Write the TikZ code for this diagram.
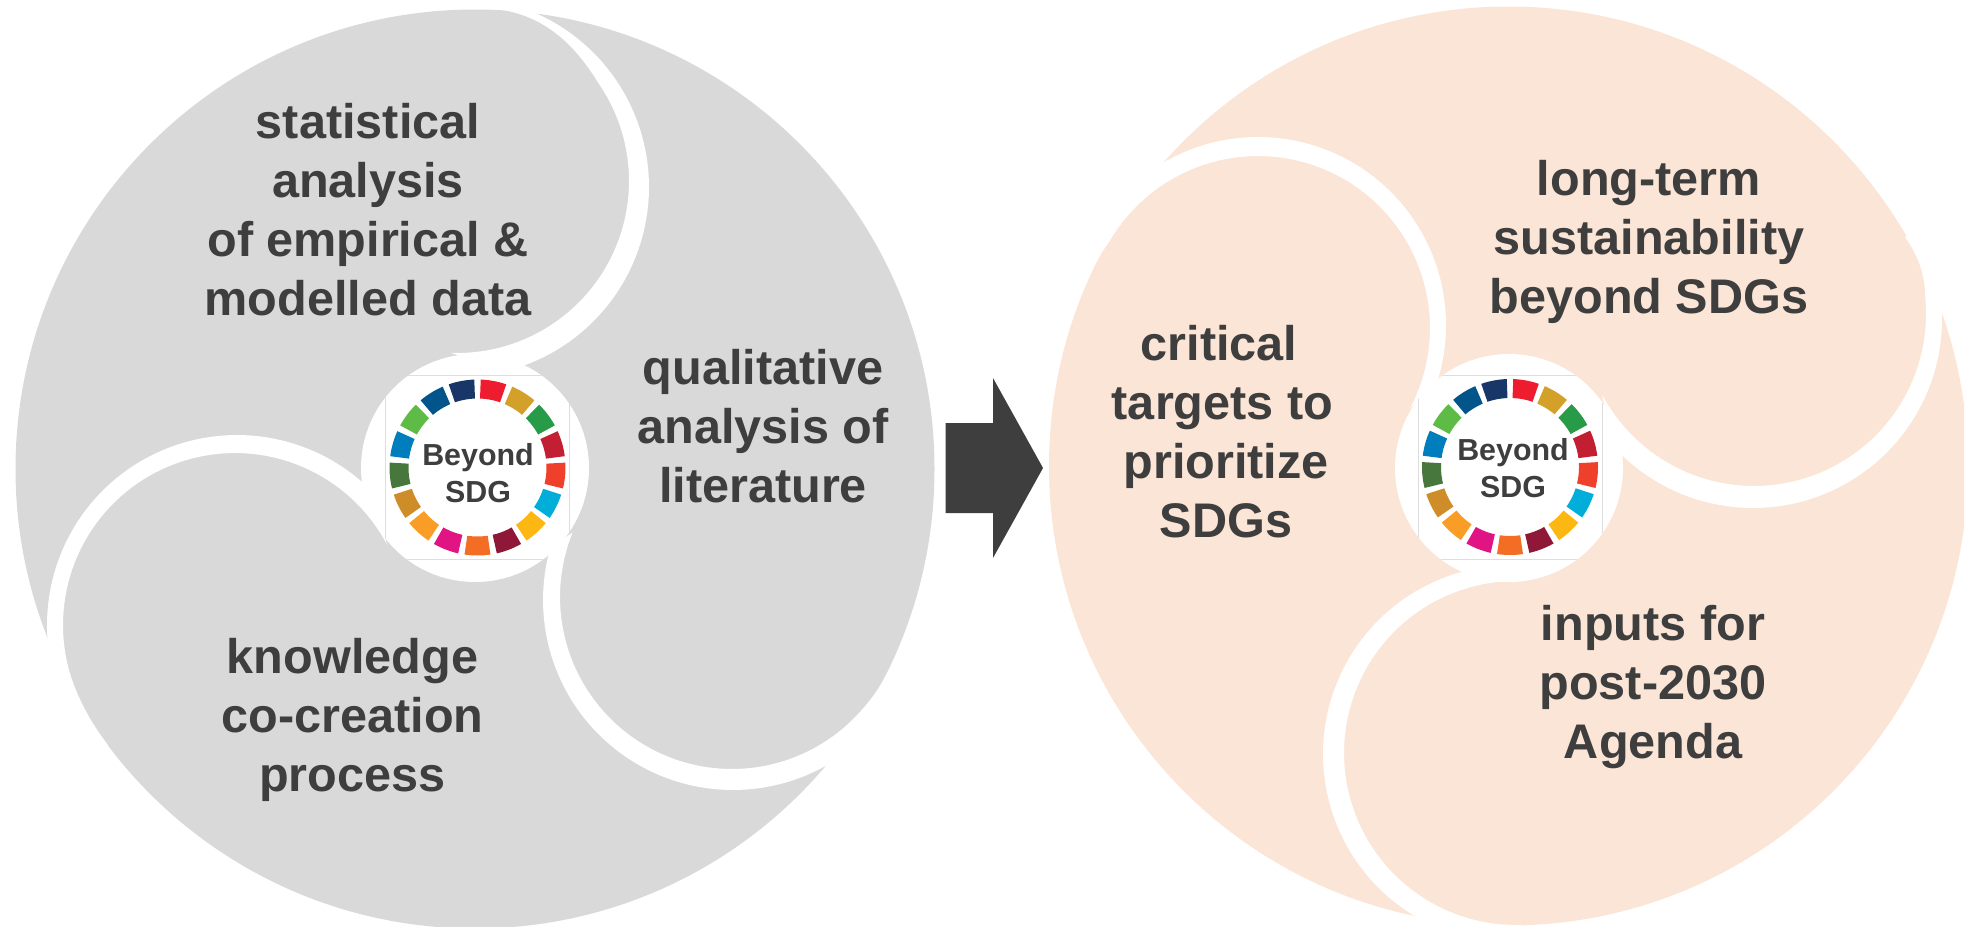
\documentclass[tikz,border=0pt]{standalone}
\usepackage{fontspec}
\setmainfont{Liberation Sans}
\definecolor{diskgray}{HTML}{D9D9D9}
\definecolor{diskpeach}{HTML}{FBE5D6}
\definecolor{inkgray}{HTML}{3E3E3E}
\definecolor{logoedge}{HTML}{DEDEDE}
\definecolor{sA}{HTML}{ED1C2E}\definecolor{sB}{HTML}{D3A029}\definecolor{sC}{HTML}{279B48}
\definecolor{sD}{HTML}{C31F33}\definecolor{sE}{HTML}{EF402B}\definecolor{sF}{HTML}{00AED9}
\definecolor{sG}{HTML}{FDB713}\definecolor{sH}{HTML}{8F1838}\definecolor{sI}{HTML}{F36D25}
\definecolor{sJ}{HTML}{E11484}\definecolor{sK}{HTML}{F99D26}\definecolor{sL}{HTML}{CF8D2A}
\definecolor{sM}{HTML}{48773E}\definecolor{sN}{HTML}{007DBC}\definecolor{sO}{HTML}{5DBB46}
\definecolor{sP}{HTML}{02558B}\definecolor{sQ}{HTML}{183668}
\tikzset{
  lobetext/.style={text=inkgray,font=\fontsize{48.6}{59}\selectfont\bfseries,align=center,inner sep=0pt,anchor=base},
  logotext/.style={text=inkgray,font=\fontsize{30.4}{37}\selectfont\bfseries,align=center,inner sep=0pt,anchor=base},
  gap/.style={fill=white,draw=none},
  arcp/.style={samples=70}
}
% #1,#2 white circle centre; #3,#4 ring centre; #5,#6 last text baseline; #7 node name
\newcommand{\sdglogo}[7]{%
  \fill[white] (#1,#2) circle[radius=114];
  \begin{scope}
    \clip (#1,#2) circle[radius=114];
    \draw[logoedge,line width=0.8pt] (#3-92,#4-92) rectangle (#3+92,#4+92);
  \end{scope}
  \foreach \k/\c in {0/sA,1/sB,2/sC,3/sD,4/sE,5/sF,6/sG,7/sH,8/sI,9/sJ,10/sK,11/sL,12/sM,13/sN,14/sO,15/sP,16/sQ}{
    \pgfmathsetmacro{\aS}{90-\k*360/17-2.1}
    \pgfmathsetmacro{\aE}{90-(\k+1)*360/17+2.1}
    \fill[\c] ({#3+88*cos(\aS)},{#4-88*sin(\aS)})
      -- plot[domain=\aS:\aE,samples=8,smooth] ({#3+88*cos(\x)},{#4-88*sin(\x)})
      -- ({#3+69*cos(\aE)},{#4-69*sin(\aE)})
      -- plot[domain=\aE:\aS,samples=8,smooth] ({#3+69*cos(\x)},{#4-69*sin(\x)})
      -- cycle;
  }
  \node[logotext] (#7) at (#5,#6) {Beyond\\SDG};
}
\begin{document}
\begin{tikzpicture}[x=1pt,y=-1pt]
\useasboundingbox (0,0) rectangle (1964,926);
\clip (0,0) rectangle (1964,926);

% ---- left disk
\fill[diskgray] (475,469) circle[radius=459.5];
% upper-right gap
\fill[gap] plot[arcp,domain=-68:76] ({459+190*cos(\x)},{187+190*sin(\x)})
  -- plot[arcp,domain=92:-34.4] ({457+172*cos(\x)},{181+172*sin(\x)})
  .. controls (575,45) and (540,5) .. (470,8)
  -- (470,-40) -- (560,-40) -- cycle;
% lower-right gap
\fill[gap] plot[arcp,domain=55:196] ({733+190*cos(\x)},{600+190*sin(\x)})
  -- plot[arcp,domain=202:50] ({732+172*cos(\x)},{597+172*sin(\x)})
  .. controls (855,718) and (874,699) .. (886,675)
  -- (1000,640) -- (1000,800) -- cycle;
% left gap
\fill[gap] plot[arcp,domain=175:316] ({237+190*cos(\x)},{625+190*sin(\x)})
  -- plot[arcp,domain=332:165] ({235+172*cos(\x)},{625+172*sin(\x)})
  .. controls (76,695) and (90,722) .. (108,745)
  -- (40,800) -- (-40,640) -- cycle;
\sdglogo{475}{468}{477.5}{467.5}{478}{502}{logoL}
\node[lobetext] (stat) at (368,315) {statistical\\analysis\\of empirical \&\\modelled data};
\node[lobetext] (qual) at (763,502) {qualitative\\analysis of\\literature};
\node[lobetext] (know) at (352.5,791.5) {knowledge\\co-creation\\process};

% ---- arrow
\fill[inkgray] (945.5,423) -- (993,423) -- (993,378) -- (1043,468) -- (993,558) -- (993,513) -- (945.5,513) -- cycle;

% ---- right disk
\fill[diskpeach] (1508.5,466) circle[radius=459.5];
% upper-left gap
\fill[gap] plot[arcp,domain=235:377] ({1258+188*cos(\x)},{325+188*sin(\x)})
  -- plot[arcp,domain=388:210] ({1258+172*cos(\x)},{328+172*sin(\x)})
  .. controls (1104,249) and (1098,258) .. (1090,274)
  -- (1000,250) -- (1080,80) -- cycle;
% right gap
\fill[gap] plot[arcp,domain=-5:138] ({1753+189*cos(\x)},{319+189*sin(\x)})
  -- plot[arcp,domain=152:-5] ({1754+172*cos(\x)},{314+172*sin(\x)})
  .. controls (1925,272) and (1917,254) .. (1905,237)
  -- (2000,180) -- (2000,300) -- cycle;
% bottom gap
\fill[gap] plot[arcp,domain=116:258] ({1512+189*cos(\x)},{754+189*sin(\x)})
  -- plot[arcp,domain=272:88] ({1516+172*cos(\x)},{753+172*sin(\x)})
  -- (1522,990) -- (1400,990) -- cycle;
\sdglogo{1509}{468}{1510}{467}{1513}{497}{logoR}
\node[lobetext] (longterm) at (1649,313) {long-term\\sustainability\hspace*{14pt}\\beyond SDGs};
\node[lobetext] (critical) at (1222.5,537.5) {critical\hspace*{7pt}\\targets to\hspace*{7pt}\\\hspace*{7pt}prioritize\\\hspace*{7pt}SDGs};
\node[lobetext] (inputs) at (1653,758) {inputs for\\post-2030\\Agenda};
\end{tikzpicture}
\end{document}
